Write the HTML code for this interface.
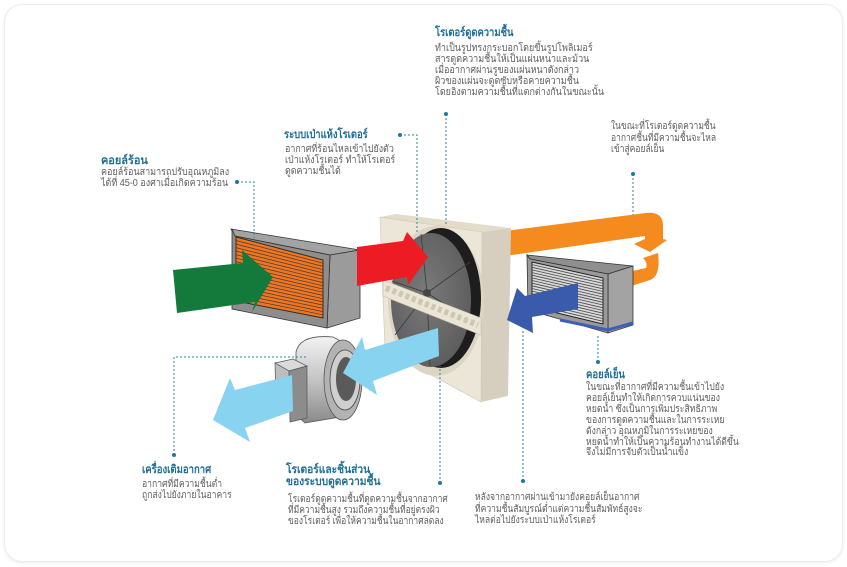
<!DOCTYPE html>
<html><head><meta charset="utf-8">
<style>
html,body{margin:0;padding:0;background:#fff;}
body{width:847px;height:567px;position:relative;overflow:hidden;font-family:"Liberation Sans","DejaVu Sans",sans-serif;}
.card{position:absolute;left:4px;top:4px;width:837px;height:556px;border-radius:18px;border:1px solid #ececec;box-shadow:0 1px 3px rgba(0,0,0,0.07);background:#fff;}
svg{position:absolute;left:0;top:0;}
.t{position:absolute;white-space:nowrap;color:#1f6e96;font-size:11.5px;line-height:12px;font-weight:bold;transform-origin:0 0;transform:scaleX(0.84);}
.b{position:absolute;white-space:nowrap;color:#5e5e5e;font-size:10px;line-height:11px;transform-origin:0 0;transform:scaleX(0.87);}
</style></head><body>
<div class="card"></div>
<svg width="847" height="567" viewBox="0 0 847 567">
<defs>
<linearGradient id="hs" x1="0" y1="0" x2="0" y2="1">
<stop offset="0" stop-color="#f2f2f2"/><stop offset="0.5" stop-color="#c4c4c4"/><stop offset="1" stop-color="#8a8a8a"/>
</linearGradient>
<radialGradient id="disc" cx="0.45" cy="0.45" r="0.6">
<stop offset="0" stop-color="#7a7a7a"/><stop offset="1" stop-color="#5c5c5c"/>
</radialGradient>
</defs>

<!-- orange arrow -->
<path d="M505,231 L646,213 Q663,211 663,226 L663,239 L667,240 L650,252 L634,244 L645,239 L645,236 L505,256 Z" fill="#f58a1f"/>
<path d="M643,258 L658,253 Q661,276 650,280 L628,287 L628,272 L646,268 Q648,263 643,258 Z" fill="#f58a1f"/>

<!-- rotor frame -->
<polygon points="380,217 396,214 511,228 482,232" fill="#e3dccb"/>
<polygon points="482,232 511,228 508,396 481,402" fill="#d6cfbf"/>
<polygon points="380,217 482,232 481,402 385,350" fill="#ece6d8" stroke="#cfc7b5" stroke-width="0.6"/>
<ellipse cx="436" cy="301" rx="48" ry="75" fill="#ddd5c3"/>
<ellipse cx="441" cy="298" rx="40" ry="70" fill="#1d1d1d"/>
<ellipse cx="431" cy="300" rx="40" ry="67" fill="url(#disc)"/>
<g stroke="#3a3a3a" stroke-width="0.8">
<line x1="427" y1="293" x2="421" y2="234"/>
<line x1="427" y1="293" x2="392" y2="281"/>
<line x1="427" y1="293" x2="470" y2="262"/>
<line x1="427" y1="293" x2="470" y2="320"/>
<line x1="427" y1="293" x2="430" y2="366"/>
<line x1="427" y1="293" x2="395" y2="335"/>
</g>
<circle cx="427" cy="293" r="4" fill="#444"/>
<polygon points="383,280 481,318 481,335 383,296" fill="#ebe5d6" stroke="#c8bfab" stroke-width="0.6"/>
<line x1="386" y1="288" x2="478" y2="325" stroke="#cfc6b1" stroke-width="6" stroke-dasharray="4 3"/>

<!-- hot coil -->
<polygon points="231,229 360,250 330,255 235,236" fill="#a3a3a3" stroke="#333" stroke-width="0.8"/>
<polygon points="330,255 360,250 360,318 327,328" fill="#9b9b9b" stroke="#333" stroke-width="0.8"/>
<polygon points="232,229 235,236 330,255 327,328 232,309" fill="#8e8e8e" stroke="#333" stroke-width="0.8"/>
<polygon points="236,237 323,260 323,318 236,301" fill="#e9772a" stroke="#3a2a1a" stroke-width="1"/>
<g stroke="#5a3518" stroke-width="0.7">
<line x1="236" y1="240.5" x2="323" y2="263.2"/><line x1="236" y1="244.1" x2="323" y2="266.4"/>
<line x1="236" y1="247.6" x2="323" y2="269.7"/><line x1="236" y1="251.1" x2="323" y2="272.9"/>
<line x1="236" y1="254.7" x2="323" y2="276.1"/><line x1="236" y1="258.2" x2="323" y2="279.3"/>
<line x1="236" y1="261.7" x2="323" y2="282.6"/><line x1="236" y1="265.3" x2="323" y2="285.8"/>
<line x1="236" y1="268.8" x2="323" y2="289"/><line x1="236" y1="272.3" x2="323" y2="292.2"/>
<line x1="236" y1="275.9" x2="323" y2="295.4"/><line x1="236" y1="279.4" x2="323" y2="298.7"/>
<line x1="236" y1="283" x2="323" y2="301.9"/><line x1="236" y1="286.5" x2="323" y2="305.1"/>
<line x1="236" y1="290" x2="323" y2="308.3"/><line x1="236" y1="293.5" x2="323" y2="311.6"/>
<line x1="236" y1="297.1" x2="323" y2="314.8"/>
</g>

<!-- green arrow -->
<polygon points="173,270 243,263 242,250 273,277 252,312 255,302 177,313" fill="#137a3c"/>
<!-- red arrow -->
<polygon points="357,247 403,241 407,232 428,257 408,285 407,277 357,286" fill="#ed1c24"/>

<!-- cold coil -->
<polygon points="527,255 633,266 608,274 530,259" fill="#8f8f8f" stroke="#333" stroke-width="0.8"/>
<polygon points="608,274 633,266 633,325 608,333" fill="#a3a3a3" stroke="#333" stroke-width="0.8"/>
<polygon points="527,255 530,259 608,274 608,333 528,310" fill="#9a9a9a" stroke="#333" stroke-width="0.8"/>
<polygon points="532,262 603,278 603,324 532,307" fill="#d9d9d9" stroke="#222" stroke-width="1"/>
<g stroke="#4a4a4a" stroke-width="0.8">
<line x1="532" y1="264.6" x2="603" y2="280.7"/><line x1="532" y1="267.3" x2="603" y2="283.4"/>
<line x1="532" y1="269.9" x2="603" y2="286.1"/><line x1="532" y1="272.6" x2="603" y2="288.8"/>
<line x1="532" y1="275.2" x2="603" y2="291.5"/><line x1="532" y1="277.9" x2="603" y2="294.2"/>
<line x1="532" y1="280.5" x2="603" y2="297"/><line x1="532" y1="283.2" x2="603" y2="299.7"/>
<line x1="532" y1="285.8" x2="603" y2="302.3"/><line x1="532" y1="288.5" x2="603" y2="305"/>
<line x1="532" y1="291.1" x2="603" y2="307.8"/><line x1="532" y1="293.8" x2="603" y2="310.5"/>
<line x1="532" y1="296.4" x2="603" y2="313.2"/><line x1="532" y1="299.1" x2="603" y2="315.9"/>
<line x1="532" y1="301.7" x2="603" y2="318.6"/><line x1="532" y1="304.4" x2="603" y2="321.3"/>
</g>
<polyline points="560,320 608,330 633,323" fill="none" stroke="#3d5fb5" stroke-width="3"/>

<!-- dark blue arrow -->
<polygon points="578,283 525,296 517,288 507,320 533,333 532,317 578,309" fill="#3a5bab"/>

<!-- blower -->
<path d="M296,352 Q300,334 333,337 L350,346 L346,416 L305,423 L296,415 Z" fill="url(#hs)" stroke="#555" stroke-width="0.8"/>
<ellipse cx="343" cy="380" rx="19" ry="40" fill="#b3b3b3" stroke="#555" stroke-width="0.8"/>
<ellipse cx="345" cy="380" rx="15" ry="30" fill="#cfcfcf" stroke="#444" stroke-width="0.8"/>
<ellipse cx="346" cy="379" rx="10" ry="22" fill="#5a5a5a"/>
<polygon points="275,363 293,359 307,366 289,371" fill="#dadada" stroke="#555" stroke-width="0.7"/>
<polygon points="275,363 289,371 290,412 276,404" fill="#bdbdbd" stroke="#555" stroke-width="0.7"/>
<polygon points="289,371 307,366 307,418 290,422" fill="#8c8c8c" stroke="#555" stroke-width="0.7"/>

<!-- light blue arrows -->
<polygon points="438,328 365,350 362,337 343,373 377,395 373,381 439,356" fill="#87d3f0"/>
<polygon points="292,375 235,390 230,378 213,420 250,442 245,428 293,411" fill="#87d3f0"/>

<!-- connectors -->
<g fill="none" stroke="#2a86ab" stroke-width="1" stroke-dasharray="2 2">
<polyline points="446,114 446,224"/>
<polyline points="400,135 417,135 417,232"/>
<polyline points="237,182 254,182 254,238"/>
<polyline points="633,174 633,215"/>
<polyline points="598,362 598,334"/>
<polyline points="174,455 174,357 307,357"/>
<polyline points="440,483 440,366"/>
<polyline points="523,481 523,330"/>
</g>
<g fill="#1a7aa3">
<circle cx="446" cy="114" r="2"/><circle cx="400" cy="135" r="2"/><circle cx="237" cy="182" r="2"/>
<circle cx="633" cy="174" r="2"/><circle cx="598" cy="362" r="2"/><circle cx="174" cy="455" r="2"/>
<circle cx="440" cy="483" r="2"/><circle cx="523" cy="481" r="2"/>
</g>
</svg>

<div class="t" style="left:435px;top:27px;transform:scaleX(0.82);">โรเตอร์ดูดความชื้น</div>
<div class="b" style="left:435px;top:43px;transform:scaleX(0.9);">ทำเป็นรูปทรงกระบอกโดยขึ้นรูปโพลิเมอร์<br>สารดูดความชื้นให้เป็นแผ่นหนาและม้วน<br>เมื่ออากาศผ่านรูของแผ่นหนาดังกล่าว<br>ผิวของแผ่นจะดูดซับหรือคายความชื้น<br>โดยอิงตามความชื้นที่แตกต่างกันในขณะนั้น</div>

<div class="t" style="left:284px;top:129px;transform:scaleX(0.82);">ระบบเป่าแห้งโรเตอร์</div>
<div class="b" style="left:285px;top:144px;transform:scaleX(0.89);">อากาศที่ร้อนไหลเข้าไปยังตัว<br>เป่าแห้งโรเตอร์ ทำให้โรเตอร์<br>ดูดความชื้นได้</div>

<div class="t" style="left:101px;top:155px;transform:scaleX(0.95);">คอยล์ร้อน</div>
<div class="b" style="left:101px;top:167px;transform:scaleX(0.9);">คอยล์ร้อนสามารถปรับอุณหภูมิลง<br>ได้ที่ 45-0 องศาเมื่อเกิดความร้อน</div>

<div class="b" style="left:611px;top:121px;line-height:11.7px;transform:scaleX(0.85);">ในขณะที่โรเตอร์ดูดความชื้น<br>อากาศชื้นที่มีความชื้นจะไหล<br>เข้าสู่คอยล์เย็น</div>

<div class="t" style="left:586px;top:369px;transform:scaleX(0.83);">คอยล์เย็น</div>
<div class="b" style="left:586px;top:383px;line-height:10.9px;transform:scaleX(0.87);">ในขณะที่อากาศที่มีความชื้นเข้าไปยัง<br>คอยล์เย็นทำให้เกิดการควบแน่นของ<br>หยดน้ำ ซึ่งเป็นการเพิ่มประสิทธิภาพ<br>ของการดูดความชื้นและในการระเหย<br>ดังกล่าว อุณหภูมิในการระเหยของ<br>หยดน้ำทำให้เป็นความร้อนทำงานได้ดีขึ้น<br>จึงไม่มีการจับตัวเป็นน้ำแข็ง</div>

<div class="t" style="left:142px;top:464px;transform:scaleX(0.83);">เครื่องเติมอากาศ</div>
<div class="b" style="left:142px;top:479px;transform:scaleX(0.86);">อากาศที่มีความชื้นต่ำ<br>ถูกส่งไปยังภายในอาคาร</div>

<div class="t" style="left:286px;top:464px;transform:scaleX(0.89);">โรเตอร์และชิ้นส่วน<br>ของระบบดูดความชื้น</div>
<div class="b" style="left:288px;top:494px;transform:scaleX(0.85);">โรเตอร์ดูดความชื้นที่ดูดความชื้นจากอากาศ<br>ที่มีความชื้นสูง รวมถึงความชื้นที่อยู่ตรงผิว<br>ของโรเตอร์ เพื่อให้ความชื้นในอากาศลดลง</div>

<div class="b" style="left:475px;top:492px;line-height:11.5px;transform:scaleX(0.855);">หลังจากอากาศผ่านเข้ามายังคอยล์เย็นอากาศ<br>ที่ความชื้นสัมบูรณ์ต่ำแต่ความชื้นสัมพัทธ์สูงจะ<br>ไหลต่อไปยังระบบเป่าแห้งโรเตอร์</div>
</body></html>
